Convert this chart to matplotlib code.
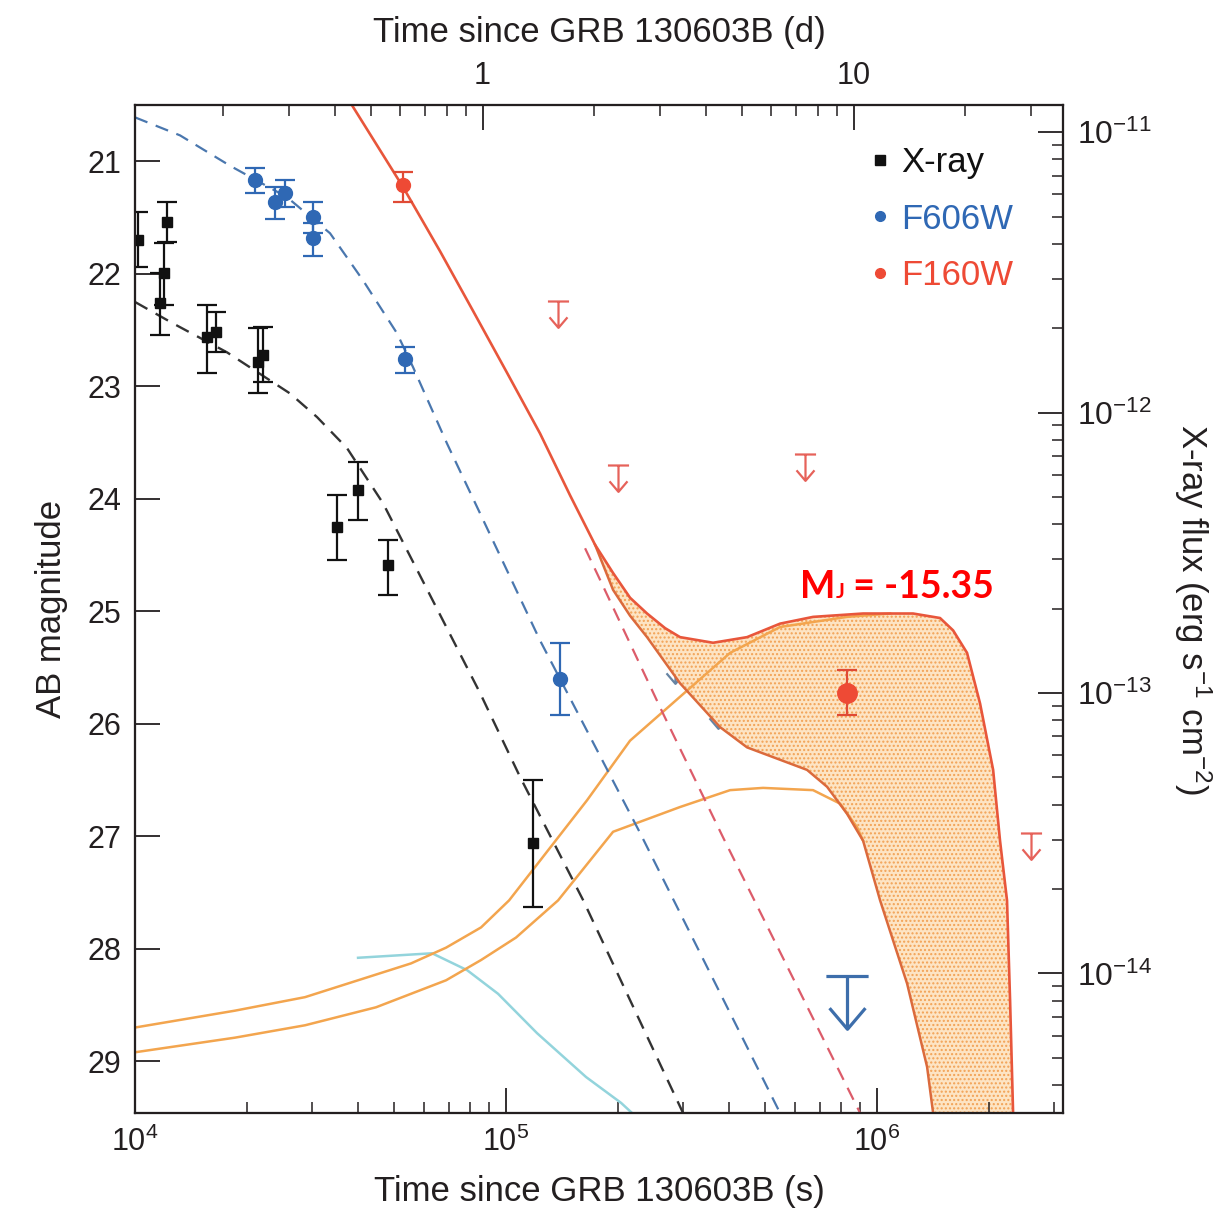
import numpy as np
import matplotlib
matplotlib.use('Agg')
from matplotlib import pyplot as plt
from matplotlib.lines import Line2D
from matplotlib.path import Path
from matplotlib.ticker import FixedLocator, FuncFormatter, NullFormatter, NullLocator

plt.rcParams['font.family'] = ['Liberation Sans', 'DejaVu Sans']
plt.rcParams['mathtext.fontset'] = 'custom'
plt.rcParams['mathtext.rm'] = 'Liberation Sans'
plt.rcParams['mathtext.default'] = 'regular'
plt.rcParams['hatch.linewidth'] = 1.0

INK = '#231f20'
DAY = 86400.0

# --- X-ray (flux, erg s-1 cm-2), plotted on the right axis
xray_t = [1.019e4, 1.168e4, 1.197e4, 1.22e4, 1.564e4, 1.653e4, 2.145e4, 2.213e4,
          3.503e4, 3.991e4, 4.808e4, 1.182e5]
xray_f = [4.12e-12, 2.46e-12, 3.14e-12, 4.78e-12, 1.86e-12, 1.94e-12, 1.51e-12, 1.60e-12,
          3.91e-13, 5.30e-13, 2.86e-13, 2.92e-14]
xray_lo = [3.30e-12, 1.89e-12, 2.42e-12, 4.06e-12, 1.39e-12, 1.64e-12, 1.17e-12, 1.29e-12,
           2.98e-13, 4.14e-13, 2.23e-13, 1.73e-14]
xray_hi = [5.19e-12, 3.14e-12, 4.02e-12, 5.62e-12, 2.42e-12, 2.28e-12, 2.00e-12, 2.02e-12,
           5.08e-13, 6.67e-13, 3.51e-13, 4.90e-14]

# --- HST F606W detections (AB mag)
f606_t = [2.106e4, 2.384e4, 2.537e4, 3.018e4, 3.018e4, 5.344e4, 1.398e5]
f606_m = [21.17, 21.36, 21.28, 21.50, 21.68, 22.76, 25.60]
f606_lo = [21.06, 21.23, 21.17, 21.36, 21.55, 22.65, 25.28]
f606_hi = [21.28, 21.51, 21.41, 21.64, 21.84, 22.88, 25.92]

# --- F160W detections
f160_t = [5.278e4, 8.30e5]
f160_m = [21.21, 25.73]
f160_lo = [21.10, 25.52]
f160_hi = [21.36, 25.92]

# --- upper limits
f160_ul_t = [1.381e5, 2.004e5, 6.397e5, 2.601e6]
f160_ul_m = [22.24, 23.70, 23.60, 26.97]
f606_ul_t = [2.854e5, 3.727e5]
f606_ul_m = [25.41, 25.81]
f606_deep_t = [8.30e5]
f606_deep_m = [28.24]

# --- model curves
blue_model_t = [1.0e4, 1.322e4, 1.803e4, 2.569e4, 3.354e4, 4.118e4, 5.084e4, 5.614e4,
                6.934e4, 8.511e4, 1.235e5, 2.297e5, 5.477e5]
blue_model_m = [20.61, 20.77, 21.04, 21.32, 21.64, 22.06, 22.53, 22.83,
                23.51, 24.13, 25.26, 26.97, 29.46]

xray_model_t = [1.0e4, 1.266e4, 1.770e4, 2.617e4, 3.094e4, 3.727e4, 4.661e4, 8.511e4,
                1.091e5, 1.612e5, 3.0e5]
xray_model_f = [2.48e-12, 2.08e-12, 1.64e-12, 1.17e-12, 9.64e-13, 7.47e-13, 4.75e-13, 1.00e-13,
                5.02e-14, 1.83e-14, 3.18e-15]

red_model_t = [1.633e5, 1.792e5, 2.650e5, 3.845e5, 9.0e5]
red_model_m = [24.44, 24.72, 25.91, 27.01, 29.46]

upper_t = [3.774e4, 5.278e4, 6.639e4, 8.147e4, 1.006e5, 1.235e5, 1.488e5, 1.738e5,
           1.943e5, 2.159e5, 2.399e5, 2.683e5, 2.944e5, 3.614e5, 4.463e5, 5.477e5,
           6.722e5, 9.170e5, 1.250e6, 1.478e6, 1.603e6, 1.748e6, 1.895e6, 2.055e6,
           2.145e6, 2.240e6, 2.283e6, 2.326e6]
upper_m = [20.46, 21.23, 21.80, 22.33, 22.88, 23.42, 23.97, 24.41,
           24.66, 24.88, 25.02, 25.15, 25.23, 25.28, 25.23, 25.11,
           25.05, 25.02, 25.02, 25.06, 25.17, 25.37, 25.82, 26.41,
           27.04, 27.57, 28.46, 29.46]

lower_t = [1.738e5, 1.943e5, 2.159e5, 2.399e5, 2.944e5, 3.774e5, 4.463e5, 5.477e5,
           6.475e5, 7.332e5, 8.30e5, 9.170e5, 1.019e6, 1.205e6, 1.364e6, 1.416e6]
lower_m = [24.41, 24.81, 25.04, 25.23, 25.64, 26.03, 26.21, 26.32,
           26.41, 26.56, 26.80, 27.04, 27.57, 28.31, 29.05, 29.46]

kn_bright_t = [1.0e4, 1.860e4, 2.872e4, 3.991e4, 5.545e4, 6.892e4, 8.564e4, 1.019e5,
               1.653e5, 2.159e5, 2.944e5, 4.016e5, 5.477e5, 8.30e5, 1.084e6]
kn_bright_m = [28.70, 28.55, 28.43, 28.28, 28.13, 27.99, 27.81, 27.57,
               26.68, 26.15, 25.76, 25.37, 25.14, 25.05, 25.02]

kn_faint_t = [1.0e4, 1.860e4, 2.872e4, 4.463e4, 6.892e4, 8.564e4, 1.064e5, 1.381e5,
              1.943e5, 2.944e5, 4.016e5, 4.928e5, 6.722e5, 7.949e5, 8.834e5, 9.170e5]
kn_faint_m = [28.92, 28.79, 28.68, 28.52, 28.28, 28.10, 27.90, 27.57,
              26.96, 26.74, 26.59, 26.57, 26.59, 26.71, 26.92, 27.04]

cyan_t = [3.991e4, 6.318e4, 7.852e4, 9.515e4, 1.212e5, 1.643e5, 2.042e5, 2.186e5]
cyan_m = [28.08, 28.04, 28.19, 28.40, 28.75, 29.14, 29.37, 29.46]

T_MIN, T_MAX = 1.0e4, 3.17e6
MAG_FAINT, MAG_BRIGHT = 29.46, 20.5
FLUX_MIN, FLUX_MAX = 3.18e-15, 1.25e-11

BLUE = '#2f68b4'
RED = '#ee4a35'
ORANGE = '#f3a54e'

# upper-limit symbol: bar on the limit, stem and open head below it
ARROW = Path([(-0.4, 0), (0.4, 0), (0, 0), (0, -1), (-0.34, -0.6), (0, -1), (0.34, -0.6)],
             [Path.MOVETO, Path.LINETO, Path.MOVETO, Path.LINETO,
              Path.MOVETO, Path.LINETO, Path.LINETO])

fig = plt.figure(figsize=(12.31, 12.11), dpi=100)
ax = fig.add_axes([0.1097, 0.0809, 0.7538, 0.8324])
ax.set_xscale('log')
ax.set_xlim(T_MIN, T_MAX)
ax.set_ylim(MAG_FAINT, MAG_BRIGHT)

# shaded kilonova region
split = int(np.searchsorted(upper_t, lower_t[0]))
poly_t = np.concatenate([upper_t[split:], lower_t[::-1]])
poly_m = np.concatenate([upper_m[split:], lower_m[::-1]])
ax.fill(poly_t, poly_m, facecolor='#fde4c4', edgecolor='#f2a255', hatch='....',
        linewidth=0, zorder=1)

ax.plot(cyan_t, cyan_m, color='#93d4dc', lw=1.8, zorder=2)
ax.plot(kn_bright_t, kn_bright_m, color=ORANGE, lw=1.8, zorder=2)
ax.plot(kn_faint_t, kn_faint_m, color=ORANGE, lw=1.8, zorder=2)
ax.plot(blue_model_t, blue_model_m, color='#4a77ae', lw=1.6, dashes=(6, 4), zorder=2)
ax.plot(red_model_t, red_model_m, color='#dc5c6a', lw=1.6, dashes=(6, 4), zorder=2)
ax.plot(lower_t, lower_m, color='#db6a3c', lw=1.8, zorder=3)
ax.plot(upper_t, upper_m, color='#e8563b', lw=1.9, zorder=3)

# detections
ax.errorbar(f606_t, f606_m, yerr=[np.subtract(f606_m, f606_lo), np.subtract(f606_hi, f606_m)],
            fmt='o', ms=10, color=BLUE, ecolor=BLUE, elinewidth=1.6, capsize=7, capthick=1.6,
            zorder=5)
for t, m, lo, hi, size in zip(f160_t, f160_m, f160_lo, f160_hi, [10, 14]):
    ax.errorbar([t], [m], yerr=[[m - lo], [hi - m]], fmt='o', ms=size, color=RED,
                ecolor='#e04a35', elinewidth=1.6, capsize=7, capthick=1.6, zorder=5)

# upper limits
ax.plot(f160_ul_t, f160_ul_m, ls='none', marker=ARROW, ms=38, mfc='none', mec='#e6625a',
        mew=1.6, zorder=5)
ax.plot(f606_ul_t, f606_ul_m, ls='none', marker=ARROW, ms=38, mfc='none', mec='#6784a3',
        mew=1.6, zorder=0.5)
ax.plot(f606_deep_t, f606_deep_m, ls='none', marker=ARROW, ms=76, mfc='none', mec='#3d6eab',
        mew=2.3, zorder=5)

# M_J annotation
mj_font = dict(color='#ff0000', fontweight='bold', family=['Lato', 'DejaVu Sans'],
               va='baseline', zorder=6)
txt_m = ax.text(6.2e5, 24.88, 'M', fontsize=27, **mj_font)
txt_j = ax.annotate('J', xy=(1, 24.88), xycoords=(txt_m, 'data'), fontsize=15, **mj_font)
ax.annotate(' = -15.35', xy=(1, 24.88), xycoords=(txt_j, 'data'), fontsize=27, **mj_font)

ax.set_yticks(range(21, 30))
ax.yaxis.set_minor_locator(NullLocator())
ax.xaxis.set_minor_formatter(NullFormatter())
ax.tick_params(which='major', direction='in', length=18, width=1.3, labelsize=22,
               colors=INK, pad=10)
ax.tick_params(which='minor', direction='in', length=8, width=1.1, colors=INK)
ax.set_xlabel('Time since GRB 130603B (s)', fontsize=25, color=INK, labelpad=12)
ax.set_ylabel('AB magnitude', fontsize=25, color=INK, labelpad=14)

# right axis: X-ray flux
axr = ax.twinx()
axr.set_yscale('log')
axr.set_ylim(FLUX_MIN, FLUX_MAX)
axr.errorbar(xray_t, xray_f, yerr=[np.subtract(xray_f, xray_lo), np.subtract(xray_hi, xray_f)],
             fmt='s', ms=7, color='#111111', ecolor='#111111', elinewidth=1.6, capsize=7,
             capthick=1.6, zorder=5)
axr.plot(xray_model_t, xray_model_f, color='#333333', lw=1.7, dashes=(6, 4), zorder=2)
axr.yaxis.set_minor_formatter(NullFormatter())
axr.tick_params(which='major', direction='in', length=18, width=1.3, labelsize=23,
                colors=INK, pad=10)
axr.tick_params(which='minor', direction='in', length=8, width=1.1, colors=INK)
axr.set_ylabel('X-ray flux (erg s$^{-1}$ cm$^{-2}$)', fontsize=25, color=INK,
               rotation=270, labelpad=44)

# top axis: days
axt = ax.twiny()
axt.set_xscale('log')
axt.set_xlim(T_MIN / DAY, T_MAX / DAY)
axt.xaxis.set_major_locator(FixedLocator([1, 10]))
axt.xaxis.set_major_formatter(FuncFormatter(lambda v, p: f'{v:g}'))
axt.xaxis.set_minor_formatter(NullFormatter())
axt.tick_params(which='major', direction='in', length=18, width=1.3, labelsize=22,
                colors=INK, pad=10)
axt.tick_params(which='minor', direction='in', length=8, width=1.1, colors=INK)
axt.set_xlabel('Time since GRB 130603B (d)', fontsize=25, color=INK, labelpad=14)

for a in (ax, axr, axt):
    for s in a.spines.values():
        s.set_linewidth(1.5)
        s.set_color(INK)

handles = [Line2D([], [], ls='none', marker='s', ms=7, color='#111111', label='X-ray'),
           Line2D([], [], ls='none', marker='o', ms=7, color=BLUE, label='F606W'),
           Line2D([], [], ls='none', marker='o', ms=7, color=RED, label='F160W')]
axt.legend(handles=handles, loc='upper left', bbox_to_anchor=(0.792, 0.959), frameon=False,
           fontsize=25, handlelength=0.6, handletextpad=0.3, labelspacing=0.67,
           borderpad=0, borderaxespad=0, labelcolor=['#111111', BLUE, RED])

fig.savefig('out.png', dpi=100)
